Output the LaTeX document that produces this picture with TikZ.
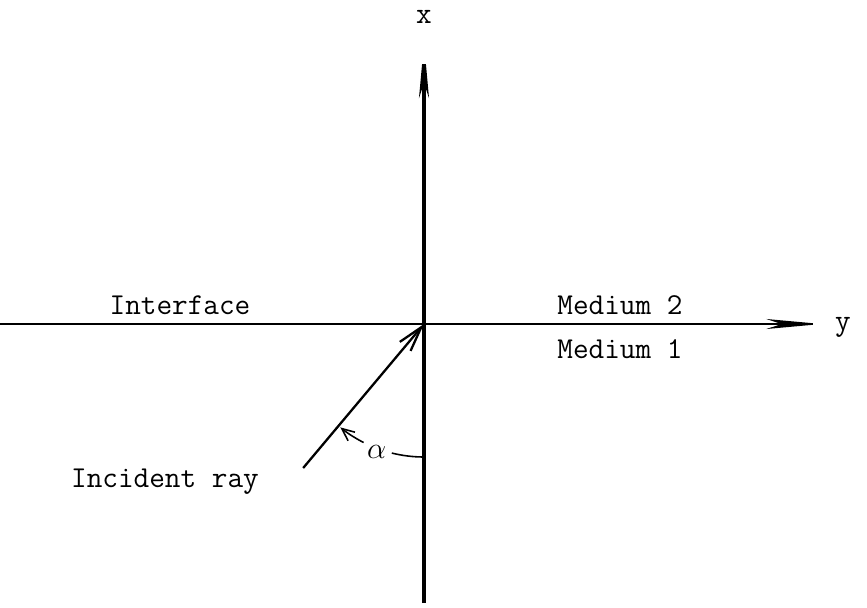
\documentclass[tikz,border=0pt]{standalone}
\usetikzlibrary{arrows.meta}
\begin{document}
\begin{tikzpicture}[every node/.style={font=\LARGE\ttfamily},
        axis/.style={line width=2.2pt, -{Stealth[length=1.1cm, width=0.2cm, inset=0.3cm]}},
        ray/.style={line width=1.3pt, -{Straight Barb[length=0.5cm, width=0.28cm]}}]
      \useasboundingbox (-8.48,-5.66) rectangle (8.86,6.48);
      \coordinate (O) at (0,0);
      \coordinate (Xbot) at (0,-5.58);
      \coordinate (Xtop) at (0,5.62);
      \coordinate (Yleft) at (-8.48,0);
      \coordinate (Yright) at (7.95,0);
      \coordinate (Rstart) at (230:3.76);
      \draw[axis] (Xbot) -- (Xtop);
      \draw[axis, line width=0.9pt] (Yleft) -- (Yright);
      \draw[ray] (Rstart) -- (O);
      \node (xlabel) at (0,6.14) {x};
      \node (ylabel) at (8.38,-0.06) {y};
      \node (interface) at (-4.88,0.38) {Interface};
      \node (medium2) at (3.92,0.38) {Medium 2};
      \node (medium1) at (3.92,-0.5) {Medium 1};
      \node (incident) at (-5.18,-3.16) {Incident ray};
      % angle of incidence
      \coordinate (Atick) at (230:2.66);
      \draw[line width=0.9pt] (230:2.56) -- (230:2.76);
      \draw[line width=0.9pt] (270:2.66) arc[start angle=270, end angle=256, radius=2.66];
      \draw[line width=0.9pt, -{Straight Barb[length=0.25cm, width=0.22cm]}] (243:2.66) arc[start angle=243, end angle=231, radius=2.66];
      \node (alpha) at (249.6:2.72) {$\alpha$};
    \end{tikzpicture}
\end{document}
